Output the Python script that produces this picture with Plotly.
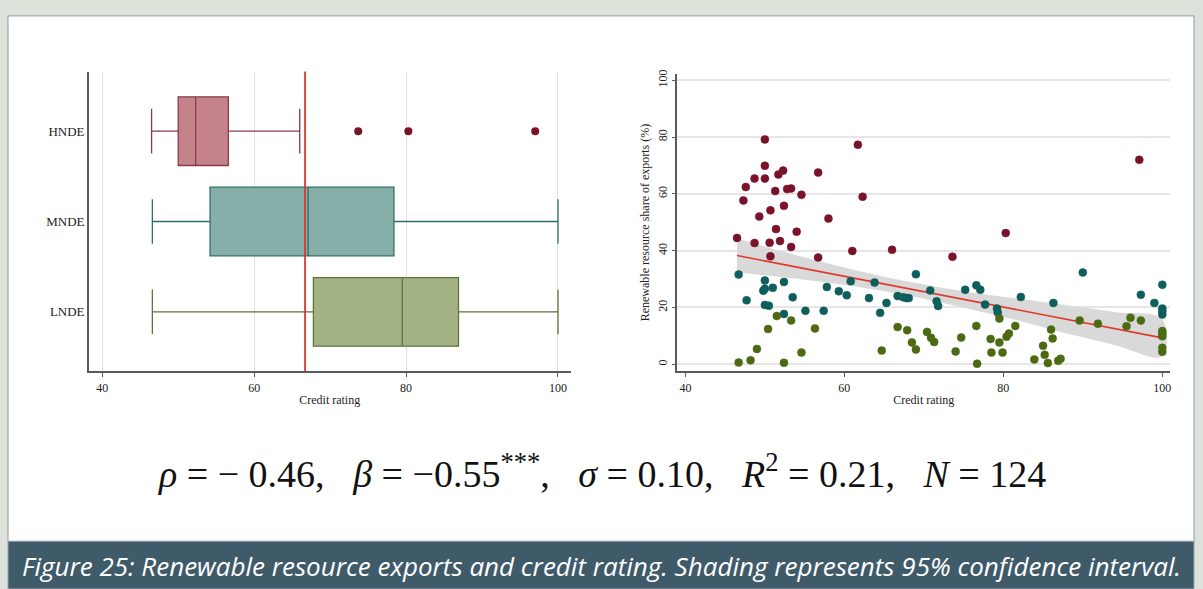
import plotly.graph_objects as go

W, H = 1203, 589

# ---- left panel: credit rating by dependence group (box summary)
groups = ["HNDE", "MNDE", "LNDE"]
box_low = [46.5, 46.6, 46.6]
box_q1 = [50.0, 54.2, 67.8]
box_med = [52.3, 67.1, 79.5]
box_q3 = [56.6, 78.4, 86.9]
box_high = [66.0, 100.0, 100.0]
outlier_group = ["HNDE", "HNDE", "HNDE"]
outlier_x = [73.7, 80.3, 97.0]
mean_rating = 66.7

# ---- right panel: renewable share of exports vs credit rating
hnde_x = [50.0, 61.7, 50.0, 52.3, 51.7, 48.7, 50.0, 56.7, 47.6, 51.3, 52.8, 53.3, 54.6,
          62.3, 47.3, 52.4, 50.7, 49.3, 58.0, 51.4, 54.0, 46.5, 48.7, 50.6, 51.9, 53.3,
          61.0, 50.7, 56.7, 66.0, 73.6, 80.3, 97.1]
hnde_y = [79.2, 77.3, 69.9, 68.2, 66.8, 65.4, 65.4, 67.5, 62.4, 61.0, 61.7, 61.9, 59.7,
          59.0, 57.7, 55.8, 54.2, 52.0, 51.3, 47.6, 46.7, 44.5, 42.7, 42.8, 43.4, 41.3,
          39.9, 38.0, 37.6, 40.3, 37.9, 46.2, 72.0]
mnde_x = [46.7, 50.0, 52.4, 50.0, 49.8, 51.0, 57.8, 59.3, 47.7, 53.5, 50.0, 50.5, 52.4,
          55.1, 57.4, 60.3, 60.8, 63.8, 63.1, 65.3, 64.5, 69.0, 66.7, 67.4, 67.8, 68.1,
          70.8, 71.6, 71.8, 75.2, 76.6, 77.1, 77.7, 79.2, 79.3, 82.2, 86.3, 90.0, 97.3,
          99.0, 100.0, 100.0, 100.0, 100.0]
mnde_y = [31.6, 29.5, 29.0, 26.6, 25.9, 26.9, 27.2, 25.7, 22.5, 23.6, 20.9, 20.6, 17.7,
          18.8, 18.8, 24.3, 29.2, 28.8, 23.3, 21.6, 18.1, 31.7, 24.0, 23.6, 23.3, 23.3,
          26.0, 22.2, 20.5, 26.2, 27.8, 26.2, 21.0, 19.6, 18.2, 23.7, 21.6, 32.3, 24.5,
          21.6, 28.0, 19.6, 18.7, 17.5]
lnde_x = [51.5, 53.3, 50.4, 56.3, 49.0, 54.6, 46.7, 48.2, 52.4, 66.7, 67.9, 68.5, 69.0,
          64.7, 70.4, 70.9, 71.3, 74.7, 74.0, 76.6, 76.7, 78.4, 78.5, 79.5, 79.5, 79.9,
          81.5, 80.4, 80.7, 83.9, 85.0, 85.2, 85.6, 86.0, 86.2, 86.9, 87.2, 89.6, 91.9,
          95.5, 96.0, 97.3, 100.0, 100.0, 100.0, 100.0, 100.0]
lnde_y = [17.0, 15.4, 12.4, 12.6, 5.4, 4.1, 0.6, 1.4, 0.5, 13.1, 12.0, 7.7, 5.2,
          4.8, 11.4, 9.3, 7.8, 9.4, 4.5, 13.5, 0.2, 8.9, 4.1, 7.7, 16.1, 4.1,
          13.5, 9.7, 10.8, 1.7, 6.5, 3.3, 0.4, 12.2, 9.1, 1.2, 1.9, 15.4, 14.3,
          13.4, 16.4, 15.4, 11.7, 9.9, 5.8, 4.4, 10.8]

# linear fit and 95% CI band, read at a few points
fit_x = [46.5, 52, 58, 64, 70, 76, 82, 88, 94, 100]
fit_y = [38.3, 35.3, 32.1, 28.8, 25.6, 22.3, 19.2, 15.8, 12.6, 9.3]
ci_hi = [44.3, 39.9, 35.5, 31.4, 28.1, 25.3, 23.1, 20.8, 18.4, 15.8]
ci_lo = [32.3, 30.7, 28.7, 26.2, 23.1, 19.3, 15.3, 10.8, 6.8, 2.8]

SP = "&nbsp;&nbsp;&nbsp;"
stats_text = ("<i>ρ</i> = − 0.46," + SP + "<i>β</i> = −0.55<sup>***</sup>," + SP +
              "<i>σ</i> = 0.10," + SP + "<i>R</i><sup>2</sup> = 0.21," + SP +
              "<i>N</i> = 124")
caption = ("Figure 25: Renewable resource exports and credit rating. "
           "Shading represents 95% confidence interval.")

fills = ["#c4838b", "#86afa9", "#a3b386"]
edges = ["#8c3a4a", "#2e6c68", "#5c7536"]
dots = {"HNDE": "#7a1229", "MNDE": "#0e5e5c", "LNDE": "#4b6a12"}

SERIF = "Liberation Serif, Times New Roman, serif"
AXIS = "#5a5a5a"


def px_x(v):
    return v / W


def px_y(v):
    return 1 - v / H


fig = go.Figure()

for g, lo, q1, md, q3, hi, fc, ec in zip(groups, box_low, box_q1, box_med, box_q3,
                                        box_high, fills, edges):
    fig.add_trace(go.Box(
        y=[g], lowerfence=[lo], q1=[q1], median=[md], q3=[q3], upperfence=[hi],
        orientation="h", fillcolor=fc, line=dict(color=ec, width=1.3),
        width=0.76, whiskerwidth=0.65, boxpoints=False, showlegend=False,
        hoverinfo="skip", xaxis="x", yaxis="y",
    ))

fig.add_trace(go.Scatter(
    x=outlier_x, y=outlier_group, mode="markers",
    marker=dict(color=dots["HNDE"], size=8), showlegend=False, xaxis="x", yaxis="y",
))

# CI band + fit
fig.add_trace(go.Scatter(
    x=fit_x + fit_x[::-1], y=ci_hi + ci_lo[::-1], fill="toself", mode="none",
    fillcolor="#d9d9d9", line_shape="spline", showlegend=False,
    xaxis="x2", yaxis="y2", hoverinfo="skip",
))
fig.add_trace(go.Scatter(
    x=fit_x, y=fit_y, mode="lines", line=dict(color="#e0392b", width=1.6),
    showlegend=False, xaxis="x2", yaxis="y2",
))

for name, xs, ys in [("HNDE", hnde_x, hnde_y), ("MNDE", mnde_x, mnde_y),
                     ("LNDE", lnde_x, lnde_y)]:
    fig.add_trace(go.Scatter(
        x=xs, y=ys, mode="markers", name=name,
        marker=dict(color=dots[name], size=8, line=dict(width=0.5, color=dots[name])),
        showlegend=False, xaxis="x2", yaxis="y2",
    ))

tickfont = dict(family=SERIF, size=12, color="#222")

fig.update_layout(
    width=W, height=H,
    margin=dict(l=0, r=0, t=0, b=0),
    paper_bgcolor="#dde2db",
    plot_bgcolor="rgba(0,0,0,0)",
    font=dict(family=SERIF, color="#222"),
    xaxis=dict(
        domain=[px_x(89), px_x(571)], range=[38.25, 101.65], anchor="y",
        tickvals=[40, 60, 80, 100], showgrid=True, gridcolor="#e2e2e2", gridwidth=1,
        zeroline=False, showline=True, linecolor=AXIS, linewidth=1.5,
        ticks="outside", ticklen=4, tickcolor=AXIS, tickfont=tickfont,
        title=dict(text="Credit rating", font=dict(family=SERIF, size=12), standoff=2),
    ),
    yaxis=dict(
        domain=[px_y(370), px_y(68)], type="category", categoryarray=groups,
        range=[2.66, -0.66], anchor="x", showgrid=False, zeroline=False,
        showline=True, linecolor=AXIS, linewidth=1.5, ticks="",
        tickfont=dict(family=SERIF, size=13, color="#222"),
    ),
    xaxis2=dict(
        domain=[px_x(678), px_x(1171)], range=[39.0, 100.97], anchor="y2",
        tickvals=[40, 60, 80, 100], showgrid=False, zeroline=False,
        showline=True, linecolor=AXIS, linewidth=1.5,
        ticks="outside", ticklen=4, tickcolor=AXIS, tickfont=tickfont,
        title=dict(text="Credit rating", font=dict(family=SERIF, size=12), standoff=2),
    ),
    yaxis2=dict(
        domain=[px_y(370), px_y(70)], range=[-2.55, 102.4], anchor="x2",
        tickvals=[0, 20, 40, 60, 80, 100], tickangle=-90,
        showgrid=True, gridcolor="#e6e6e6", gridwidth=2, zeroline=False,
        showline=True, linecolor=AXIS, linewidth=1.5,
        ticks="outside", ticklen=4, tickcolor=AXIS, tickfont=tickfont,
        title=dict(text="Renewable resource share of exports (%)",
                   font=dict(family=SERIF, size=12), standoff=4),
    ),
    shapes=[
        dict(type="rect", xref="paper", yref="paper", layer="below",
             x0=px_x(8), x1=px_x(1195), y0=px_y(541), y1=px_y(12),
             fillcolor="white", line=dict(color="#8c9aa0", width=1)),
        dict(type="rect", xref="paper", yref="paper", layer="below",
             x0=px_x(8), x1=px_x(1195), y0=0, y1=px_y(541),
             fillcolor="#3f5b6a", line=dict(color="#9aa8ae", width=1)),
        dict(type="line", xref="x", yref="y domain", x0=mean_rating, x1=mean_rating,
             y0=0, y1=1, line=dict(color="#d93a2c", width=1.8)),
    ],
    annotations=[
        dict(text=stats_text, xref="paper", yref="paper", x=px_x(603), y=px_y(470),
             yanchor="middle", showarrow=False,
             font=dict(family=SERIF, size=38, color="#111")),
        dict(text="<i>" + caption + "</i>", xref="paper", yref="paper", x=px_x(602),
             y=px_y(566), yanchor="middle", showarrow=False,
             font=dict(family="Open Sans", size=26, color="white")),
    ],
)

fig.write_html(
    "out.html",
    config={"displayModeBar": False},
    post_script="document.body.style.margin='0';document.body.style.overflow='hidden';",
)
